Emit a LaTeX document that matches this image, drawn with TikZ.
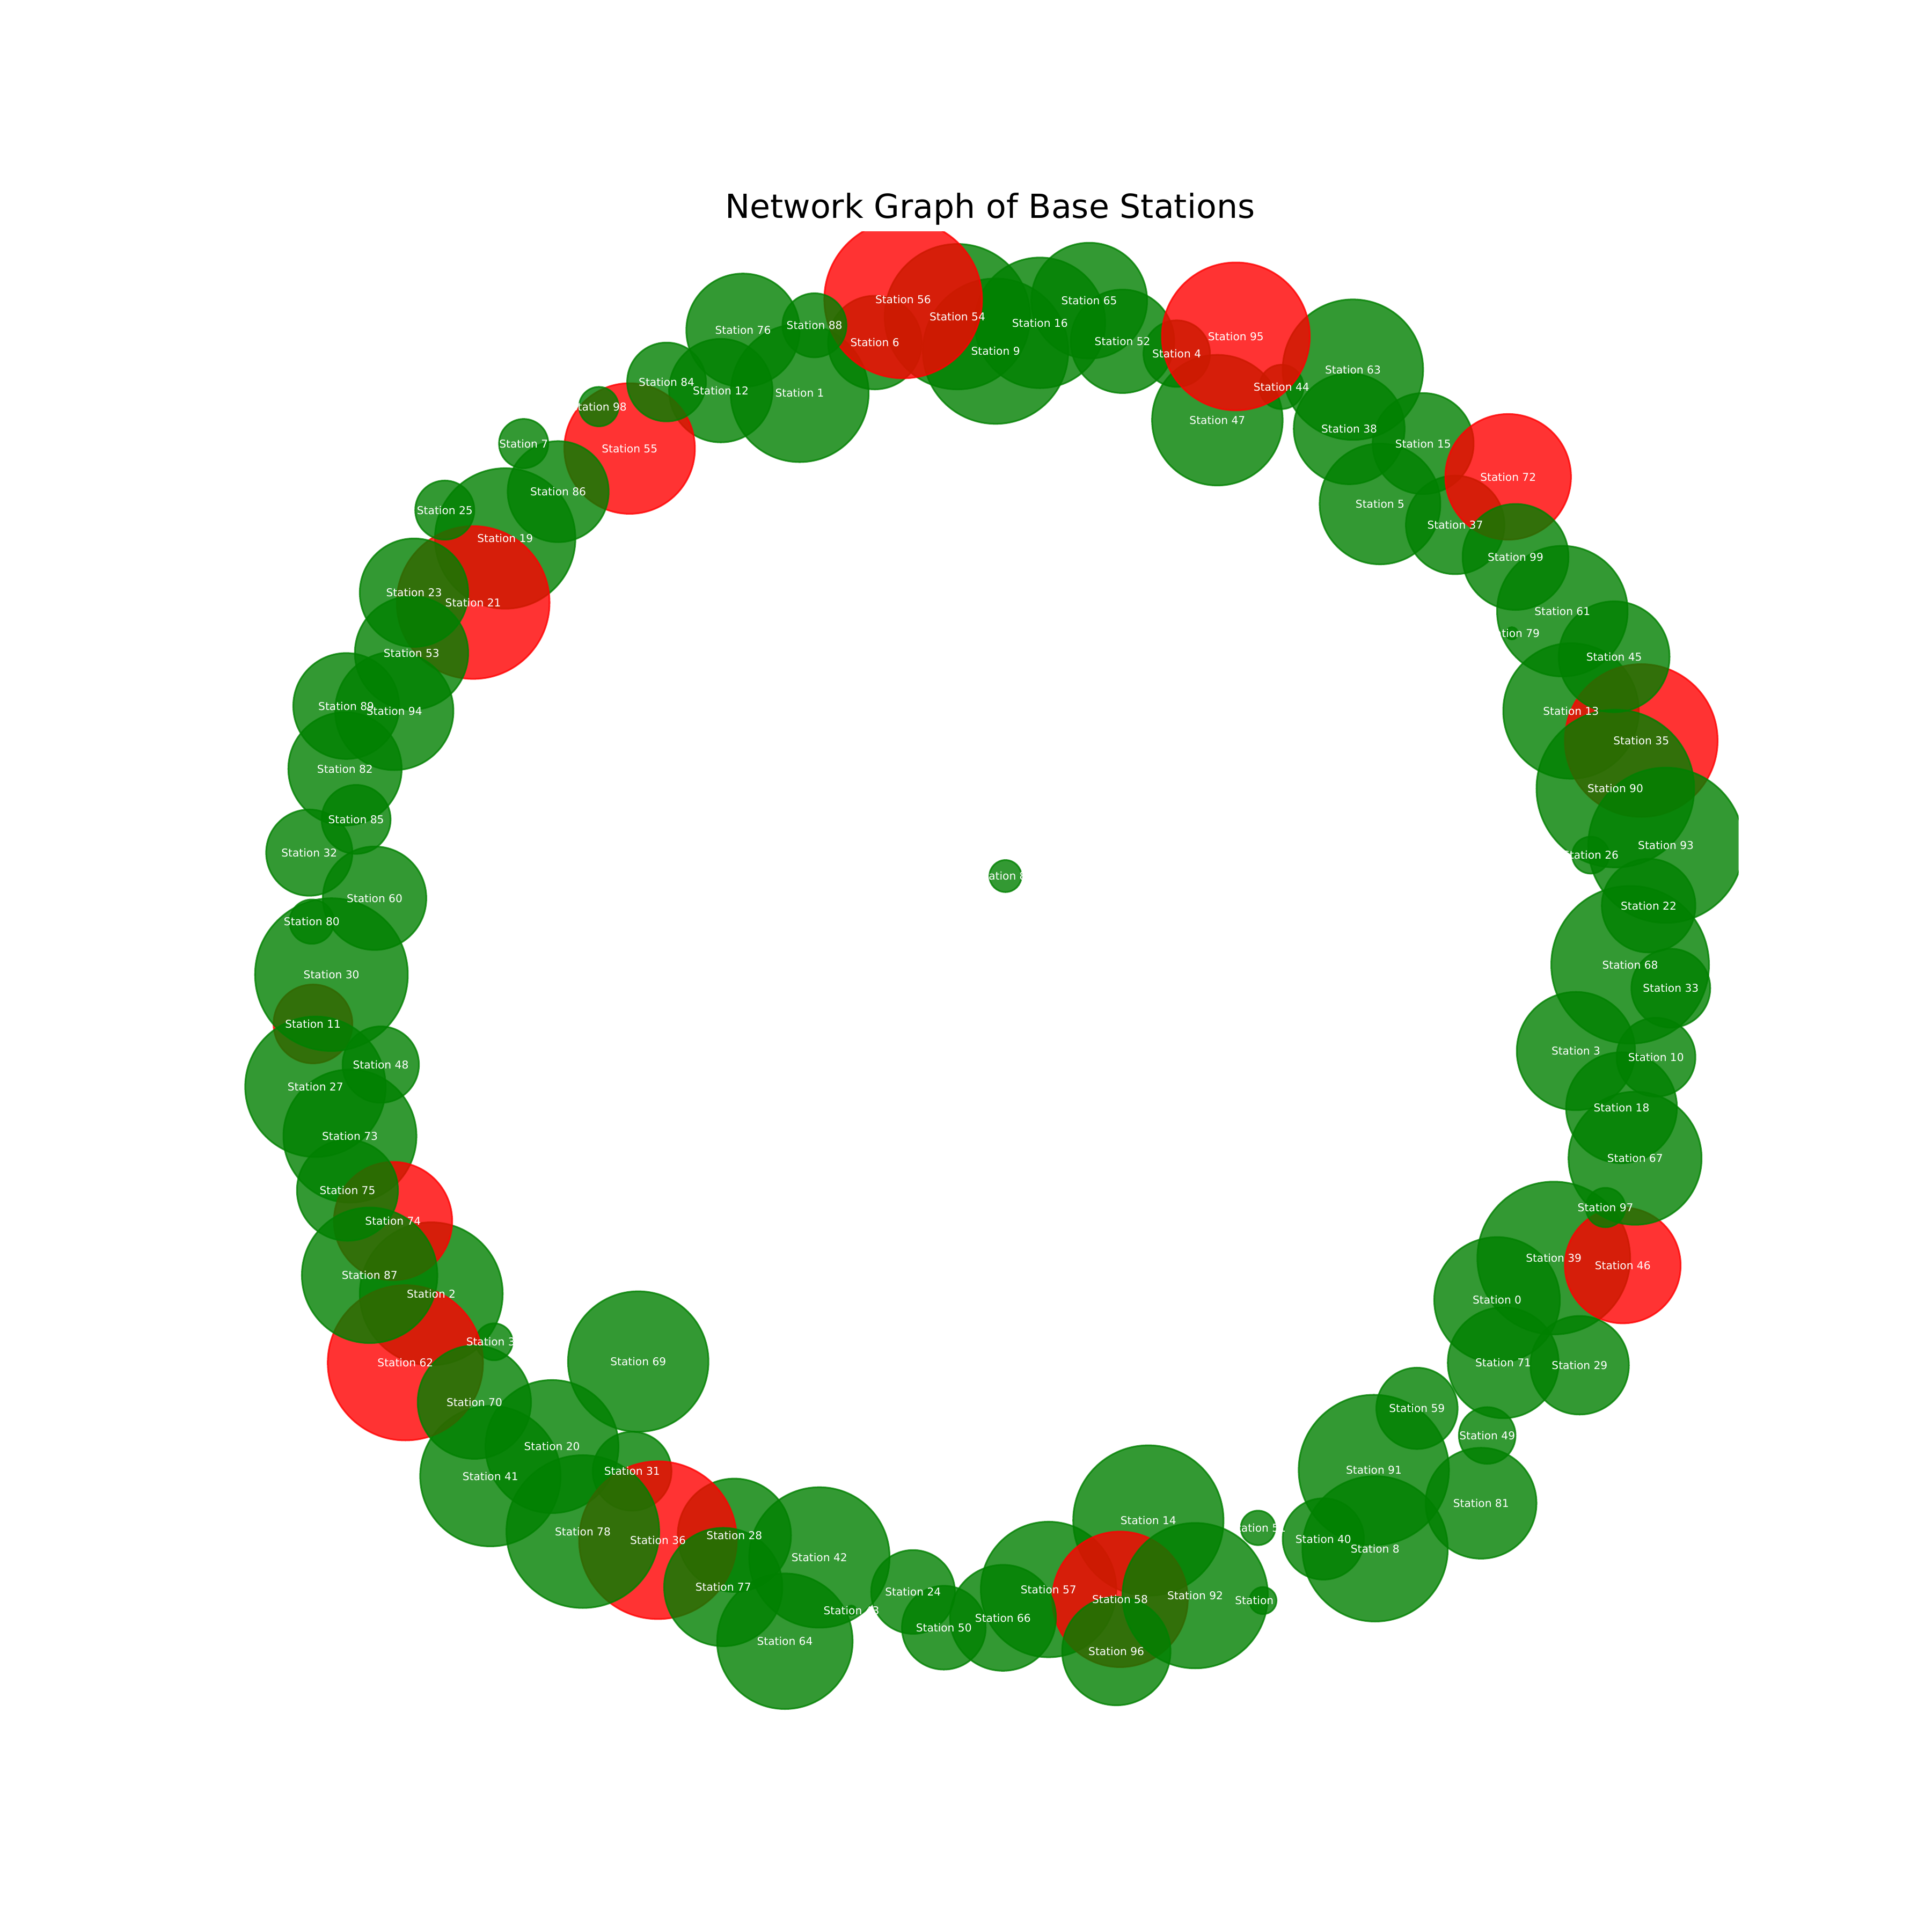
\documentclass[tikz,border=0pt]{standalone}
\usepackage{fontspec}
\setmainfont{DejaVu Sans}
\definecolor{stg}{RGB}{0,128,0}
\definecolor{str}{RGB}{255,0,0}
\def\stationlist{0/1215/1055/51/g, 1/649/319/56/g, 2/350/1050/58/g, 3/1279/853/48/g,
  4/955/287/27/g, 5/1120/409/49/g, 6/710/278/38/g, 7/425/360/20/g, 8/1116/1257/59/g,
  9/808/285/59/g, 10/1344/858/32/g, 11/254/831/32/r, 12/585/317/42/g, 13/1275/577/55/g,
  14/932/1234/61/g, 15/1155/360/41/g, 16/844/262/53/g, 17/1025/1299/11/g, 18/1316/899/45/g,
  19/410/437/57/g, 20/448/1174/54/g, 21/384/489/62/r, 22/1338/735/38/g, 23/336/481/44/g,
  24/741/1292/34/g, 25/361/414/24/g, 26/1291/694/15/g, 27/256/882/57/g, 28/596/1246/46/g,
  29/1282/1108/40/g, 30/269/791/62/g, 31/513/1194/32/g, 32/251/692/35/g, 33/1356/802/32/g,
  34/401/1089/15/g, 35/1332/601/62/r, 36/534/1250/64/r, 37/1181/426/40/g, 38/1095/348/45/g,
  39/1261/1021/62/g, 40/1074/1249/33/g, 41/398/1198/57/g, 42/665/1264/57/g, 43/691/1307/4/g,
  44/1040/314/18/g, 45/1310/533/45/g, 46/1317/1027/47/r, 47/988/341/53/g, 48/309/864/31/g,
  49/1207/1165/23/g, 50/766/1321/34/g, 51/1021/1240/14/g, 52/911/277/42/g, 53/334/530/46/g,
  54/777/257/59/g, 55/511/364/53/r, 56/733/243/64/r, 57/851/1290/55/g, 58/909/1298/55/r,
  59/1150/1143/33/g, 60/304/729/42/g, 61/1268/496/53/g, 62/329/1106/63/r, 63/1098/300/57/g,
  64/637/1332/55/g, 65/884/244/47/g, 66/814/1313/43/g, 67/1327/940/54/g, 68/1323/783/64/g,
  69/518/1105/57/g, 70/385/1138/46/g, 71/1220/1106/45/g, 72/1224/387/51/r, 73/284/922/54/g,
  74/319/991/48/r, 75/282/966/41/g, 76/603/268/46/g, 77/587/1288/48/g, 78/473/1243/62/g,
  79/1227/514/5/g, 80/253/748/18/g, 81/1202/1220/45/g, 82/280/624/46/g, 83/816/711/13/g,
  84/541/310/32/g, 85/289/665/28/g, 86/453/399/41/g, 87/300/1035/55/g, 88/661/264/26/g,
  89/281/573/43/g, 90/1311/640/64/g, 91/1115/1193/61/g, 92/970/1295/59/g, 93/1352/686/63/g,
  94/320/577/48/g, 95/1003/273/60/r, 96/906/1340/44/g, 97/1303/980/16/g, 98/486/330/16/g,
  99/1230/452/43/g}
\begin{document}
\begin{tikzpicture}[x = 0.04cm, y = -0.04cm,
    station/.style = {circle, inner sep = 0pt, line width = 1.5pt,
      fill opacity = 0.8, draw opacity = 0.8},
    stlabel/.style = {text = white, inner sep = 0pt, font = \fontsize{10}{12}\selectfont}]
  \useasboundingbox (0,0) rectangle (1568,1568);

  \node[anchor = base, font = \fontsize{30.6}{36}\selectfont] (title) at (803.5,177)
    {Network Graph of Base Stations};

  \begin{scope}
    \clip (196,188) rectangle (1411,1395);
    \foreach \n/\x/\y/\r/\c in \stationlist
      \node[station, fill = st\c, draw = st\c, minimum size = \r*0.08cm] (s\n) at (\x,\y) {};
  \end{scope}

  \foreach \n/\x/\y/\r/\c in \stationlist
    \node[stlabel] (l\n) at (s\n) {Station \n};
\end{tikzpicture}
\end{document}
